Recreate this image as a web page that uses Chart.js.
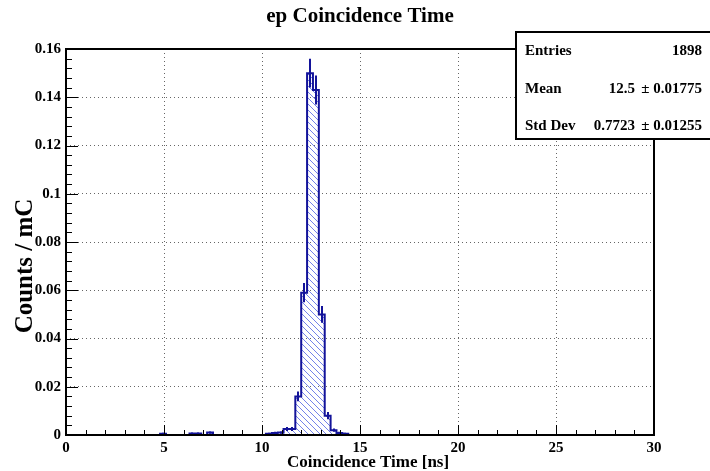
<!DOCTYPE html>
<html>
<head>
<meta charset="utf-8">
<script src="https://cdn.jsdelivr.net/npm/chart.js@4.4.1/dist/chart.umd.min.js"></script>
<style>
  body { margin: 0; background: #fff; }
  canvas { display: block; }
</style>
</head>
<body>
<canvas id="grafico" width="710" height="471"></canvas>
<script>
// histogram binning (ns)
const binLow = 0;
const binWidth = 0.3;

// counts / mC per bin, 100 bins from 0 to 30 ns
const counts = [
  0, 0, 0, 0, 0, 0, 0, 0, 0, 0,
  0, 0, 0, 0, 0, 0, 0.0005, 0, 0, 0,
  0, 0.0006, 0.0006, 0, 0.001, 0, 0, 0, 0, 0,
  0, 0, 0, 0, 0.0005, 0.0008, 0.001, 0.0025, 0.0025, 0.016,
  0.059, 0.150, 0.143, 0.050, 0.008, 0.002, 0.0008, 0.0005, 0, 0,
  0, 0, 0, 0, 0, 0, 0, 0, 0, 0,
  0, 0, 0, 0, 0, 0, 0, 0, 0, 0,
  0, 0, 0, 0, 0, 0, 0, 0, 0, 0,
  0, 0, 0, 0, 0, 0, 0, 0, 0, 0,
  0, 0, 0, 0, 0, 0, 0, 0, 0, 0
];

// statistical errors per bin
const errors = [
  0, 0, 0, 0, 0, 0, 0, 0, 0, 0,
  0, 0, 0, 0, 0, 0, 0.0004, 0, 0, 0,
  0, 0.0004, 0.0004, 0, 0.0005, 0, 0, 0, 0, 0,
  0, 0, 0, 0, 0.0004, 0.0005, 0.0005, 0.0008, 0.0008, 0.002,
  0.004, 0.006, 0.006, 0.0035, 0.0015, 0.0007, 0.0005, 0.0004, 0, 0,
  0, 0, 0, 0, 0, 0, 0, 0, 0, 0,
  0, 0, 0, 0, 0, 0, 0, 0, 0, 0,
  0, 0, 0, 0, 0, 0, 0, 0, 0, 0,
  0, 0, 0, 0, 0, 0, 0, 0, 0, 0,
  0, 0, 0, 0, 0, 0, 0, 0, 0, 0
];

const xTicks = [0, 5, 10, 15, 20, 25, 30];
const yTicks = [0, 0.02, 0.04, 0.06, 0.08, 0.1, 0.12, 0.14, 0.16];

const statsLabels = ['Entries', 'Mean', 'Std Dev'];
const statsValues = ['1898', '12.5', '0.7723'];
const statsErrors = ['', '\u00b1 0.01775', '\u00b1 0.01255'];

const titulo = 'ep Coincidence Time';
const tituloX = 'Coincidence Time [ns]';
const tituloY = 'Counts / mC';

const FONTE = "'Liberation Serif', 'Times New Roman', serif";
const AZUL = '#13139a';

// pontos do histograma (borda esquerda de cada bin + fechamento)
const pontos = counts.map((v, i) => ({ x: binLow + i * binWidth, y: v }));
pontos.push({ x: binLow + counts.length * binWidth, y: counts[counts.length - 1] });

// padrão hachurado
function criarHachura() {
  const s = 6;
  const c = document.createElement('canvas');
  c.width = s; c.height = s;
  const g = c.getContext('2d');
  g.strokeStyle = 'rgba(70, 90, 225, 0.75)';
  g.lineWidth = 1;
  g.beginPath();
  for (const o of [-s, 0, s]) {
    g.moveTo(o, 0);
    g.lineTo(o + s, s);
  }
  g.stroke();
  return g.createPattern(c, 'repeat');
}

const decoracao = {
  id: 'decoracao',
  afterDatasetsDraw(chart) {
    const { ctx, chartArea: a, scales } = chart;
    const x = scales.x, y = scales.y;
    ctx.save();

    // barras de erro
    ctx.strokeStyle = AZUL;
    ctx.lineWidth = 2;
    counts.forEach((v, i) => {
      if (!errors[i]) return;
      const px = Math.round(x.getPixelForValue(binLow + (i + 0.5) * binWidth));
      ctx.beginPath();
      ctx.moveTo(px, y.getPixelForValue(v - errors[i]));
      ctx.lineTo(px, y.getPixelForValue(v + errors[i]));
      ctx.stroke();
    });

    // ticks internos
    ctx.strokeStyle = '#000';
    ctx.lineWidth = 1;
    ctx.beginPath();
    for (let k = 0; k <= 30; k++) {
      const px = Math.round(x.getPixelForValue(k)) + 0.5;
      const len = k % 5 === 0 ? 10 : 5;
      ctx.moveTo(px, a.bottom);
      ctx.lineTo(px, a.bottom - len);
    }
    for (let k = 0; k <= 40; k++) {
      const py = Math.round(y.getPixelForValue(k * 0.004)) + 0.5;
      const len = k % 5 === 0 ? 12 : 6;
      ctx.moveTo(a.left, py);
      ctx.lineTo(a.left + len, py);
    }
    ctx.stroke();

    // moldura
    ctx.lineWidth = 2;
    ctx.strokeRect(a.left, a.top, a.right - a.left, a.bottom - a.top);
    ctx.restore();
  },
  afterDraw(chart) {
    const { ctx, chartArea: a } = chart;
    ctx.save();
    ctx.fillStyle = '#000';

    // título
    ctx.font = 'bold 21px ' + FONTE;
    ctx.textAlign = 'center';
    ctx.textBaseline = 'alphabetic';
    ctx.fillText(titulo, (a.left + a.right) / 2, 22);

    // título eixo x
    ctx.font = 'bold 17px ' + FONTE;
    ctx.textAlign = 'left';
    ctx.fillText(tituloX, 287, 467);

    // título eixo y
    ctx.save();
    ctx.translate(32, 266);
    ctx.rotate(-Math.PI / 2);
    ctx.font = 'bold 25px ' + FONTE;
    ctx.textAlign = 'center';
    ctx.fillText(tituloY, 0, 0);
    ctx.restore();

    // caixa de estatísticas
    ctx.fillStyle = '#fff';
    ctx.fillRect(516, 32, 200, 107);
    ctx.strokeStyle = '#000';
    ctx.lineWidth = 2;
    ctx.strokeRect(516, 32, 200, 107);
    ctx.fillStyle = '#000';
    ctx.font = 'bold 15px ' + FONTE;
    statsLabels.forEach((lab, i) => {
      const by = 55 + i * 37.5;
      ctx.textAlign = 'left';
      ctx.fillText(lab, 525, by);
      ctx.textAlign = 'right';
      if (statsErrors[i]) {
        ctx.fillText(statsValues[i], 635, by);
        ctx.fillText(statsErrors[i], 702, by);
      } else {
        ctx.fillText(statsValues[i], 702, by);
      }
    });
    ctx.restore();
  }
};

const ctxHist = document.getElementById('grafico').getContext('2d');

new Chart(ctxHist, {
  type: 'line',
  data: {
    datasets: [{
      data: pontos,
      stepped: true,
      borderColor: AZUL,
      borderWidth: 2,
      backgroundColor: criarHachura(),
      fill: 'origin',
      pointRadius: 0
    }]
  },
  options: {
    responsive: false,
    animation: false,
    layout: { padding: { top: 49, right: 56, bottom: 0, left: 0 } },
    plugins: {
      legend: { display: false },
      tooltip: { enabled: false }
    },
    scales: {
      x: {
        type: 'linear',
        min: xTicks[0],
        max: xTicks[xTicks.length - 1],
        afterBuildTicks: s => { s.ticks = xTicks.map(v => ({ value: v })); },
        afterFit: s => { s.height = 36; },
        ticks: {
          color: '#000',
          font: { family: FONTE, size: 15, weight: 'bold' },
          padding: 4,
          maxRotation: 0,
          autoSkip: false
        },
        grid: { color: 'rgba(0, 0, 0, 0.6)', drawTicks: false },
        border: { display: false, dash: [1, 3] }
      },
      y: {
        min: yTicks[0],
        max: yTicks[yTicks.length - 1],
        afterBuildTicks: s => { s.ticks = yTicks.map(v => ({ value: v })); },
        afterFit: s => { s.width = 66; },
        ticks: {
          color: '#000',
          font: { family: FONTE, size: 15, weight: 'bold' },
          padding: 5,
          autoSkip: false,
          callback: v => String(+v.toFixed(2))
        },
        grid: { color: 'rgba(0, 0, 0, 0.6)', drawTicks: false },
        border: { display: false, dash: [1, 3] }
      }
    }
  },
  plugins: [decoracao]
});
</script>
</body>
</html>
